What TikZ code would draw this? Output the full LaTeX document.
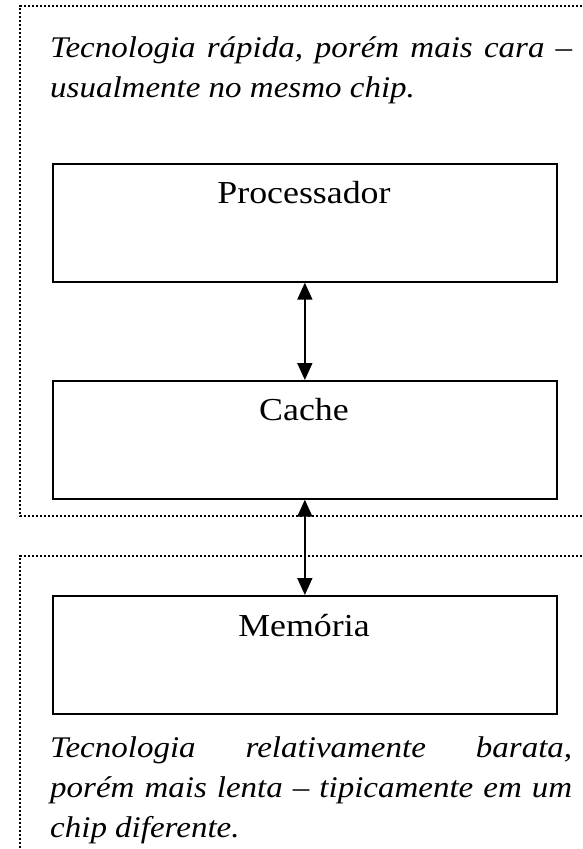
\documentclass[tikz,border=0pt]{standalone}
\usepackage{fontspec}
\setmainfont{Liberation Serif}
\newfontfamily\boxfont[FakeStretch=1.12]{Liberation Serif}
\newfontfamily\notefont[FakeStretch=1.1]{Liberation Serif}
\usetikzlibrary{arrows.meta}
\begin{document}
\begin{tikzpicture}[x=1pt,y=-1pt,
  region/.style={line width=2.6pt, dash pattern=on 2.4pt off 1.6pt},
  unitbox/.style={draw, line width=1.7pt, minimum width=504pt, minimum height=118pt, anchor=north west, inner sep=0pt},
  unitlabel/.style={anchor=base, font=\boxfont\fontsize{32}{38}\selectfont, inner sep=0pt},
  note/.style={anchor=north west, text width=522pt, align=justify, inner sep=0pt, font=\notefont\fontsize{30}{40}\selectfont\itshape},
  link/.style={line width=1.7pt, {Triangle[width=15pt,length=17pt]}-{Triangle[width=15pt,length=17pt]}}
]
\useasboundingbox (0,0) rectangle (583,849);
\fill[white] (0,0) rectangle (583,849);
% dotted regions
\draw[region] (590,6) -- (20,6) -- (20,516) -- (590,516);
\draw[region] (590,556) -- (20,556) -- (20,860);
% boxes
\node[unitbox] (proc) at (52,163) {};
\node[unitbox] (cache) at (52,380) {};
\node[unitbox] (mem) at (52,595) {};
\node[unitlabel] (proct) at (304,203) {Processador};
\node[unitlabel] (cachet) at (304,420) {Cache};
\node[unitlabel] (memt) at (304,636) {Memória};
% arrows
\draw[link] (proc.south) -- (cache.north);
\draw[link] (cache.south) -- (mem.north);
% notes
\node[note] (topnote) at (50,36) {Tecnologia rápida, porém mais cara –\linebreak usualmente no mesmo chip.};
\node[note] (botnote) at (50,736) {Tecnologia relativamente barata,\linebreak porém mais lenta – tipicamente em um\linebreak chip diferente.};
\end{tikzpicture}
\end{document}
